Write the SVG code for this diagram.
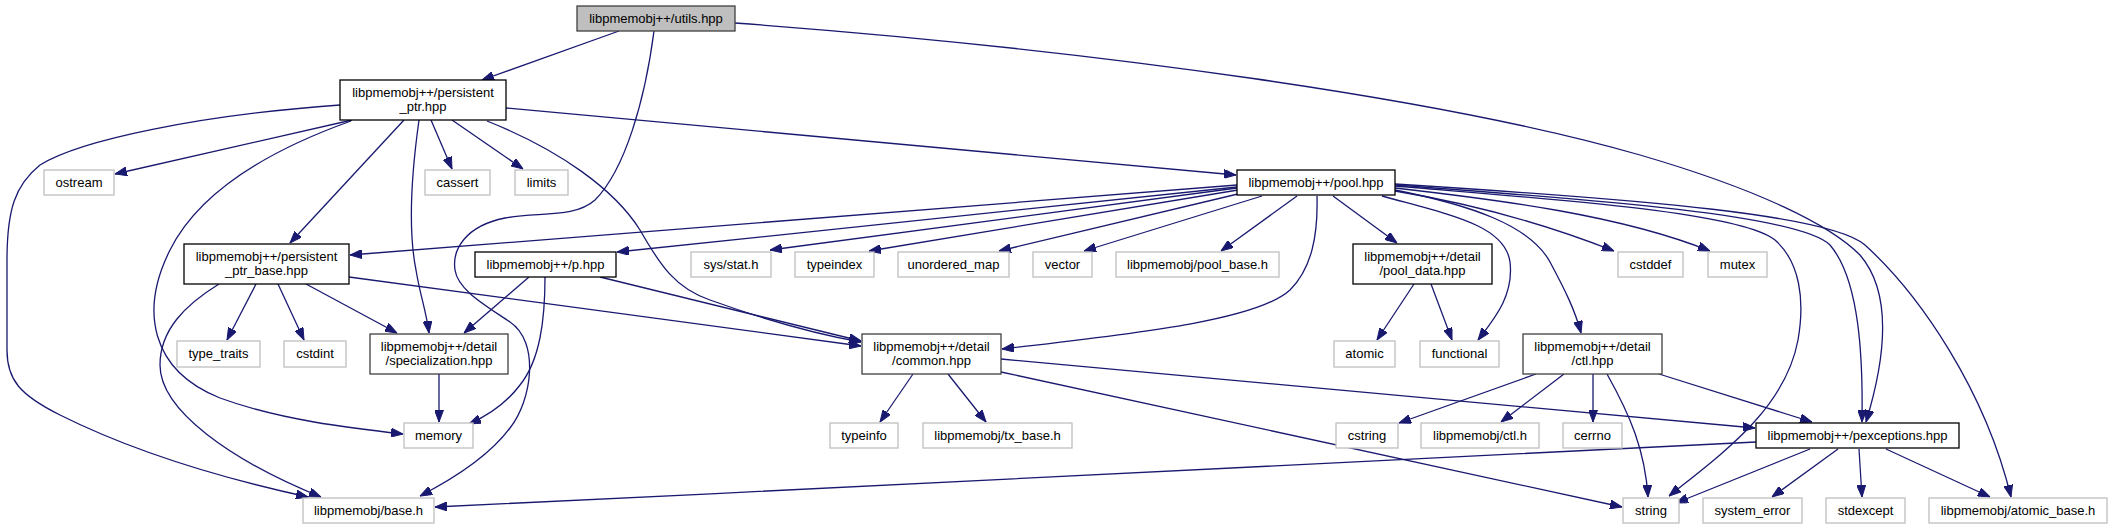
<svg xmlns="http://www.w3.org/2000/svg" width="2112" height="529" viewBox="0 0 2112 529">
<defs>
<style>
.n rect{fill:#fff;stroke:#000;stroke-width:1.3}
.n.g rect{stroke:#bfbfbf}
.n.d rect{stroke:#404040}
.n.r rect{fill:#bfbfbf;stroke:#404040}
text{font-family:"Liberation Sans",Arial,Helvetica,sans-serif;font-size:13px;fill:#000;text-anchor:middle}
#edges path{fill:none;stroke:#191970;stroke-width:1.3;marker-end:url(#ah)}
</style>
<marker id="ah" viewBox="0 0 12 9" refX="12" refY="4.5" markerWidth="12" markerHeight="9" markerUnits="userSpaceOnUse" orient="auto">
<path d="M0,0 L12,4.5 L0,9 Z" fill="#191970" stroke="#191970" stroke-width="1"/>
</marker>
</defs>
<rect width="2112" height="529" fill="#fff"/>
<g id="edges">
<path d="M619,31 L482,80"/>
<path d="M654,31 C645,100 625,170 595,200 C575,218 540,212 505,218 C465,226 452,250 455,270 C458,290 485,305 510,322 C540,342 532,400 510,428 C490,455 455,478 420,496"/>
<path d="M735,23 C1100,50 1450,100 1640,155 C1760,190 1830,225 1860,255 C1890,290 1888,350 1866,422"/>
<path d="M352,120 L115,174"/>
<path d="M431,120 L452,169"/>
<path d="M452,120 L523,169"/>
<path d="M404,120 L290,243"/>
<path d="M419,120 C412,170 408,230 416,270 C420,295 426,310 429,333"/>
<path d="M351,121 C270,150 200,190 170,250 C140,310 150,370 220,398 C280,420 350,428 403,434"/>
<path d="M340,105 C200,115 80,140 40,165 C15,185 7,210 7,260 L7,350 C7,380 20,395 60,415 C140,455 230,480 308,497"/>
<path d="M487,121 C560,150 615,190 640,230 C660,265 675,288 710,300 C760,318 810,333 861,342"/>
<path d="M506,108 L1236,175"/>
<path d="M256,284 L227,340"/>
<path d="M278,284 L304,340"/>
<path d="M306,284 L397,333"/>
<path d="M219,284 C185,305 160,330 160,365 C160,410 230,460 321,497"/>
<path d="M349,277 L861,346"/>
<path d="M529,277 L464,333"/>
<path d="M545,277 C545,320 540,360 520,385 C505,405 487,416 469,424"/>
<path d="M600,277 L861,341"/>
<path d="M439,374 L439,422"/>
<path d="M1237,185 L350,255"/>
<path d="M1237,187 L617,252"/>
<path d="M1237,188 L770,250"/>
<path d="M1238,190 L869,251"/>
<path d="M1242,193 L999,251"/>
<path d="M1262,196 L1084,251"/>
<path d="M1297,196 L1221,251"/>
<path d="M1333,196 L1397,243"/>
<path d="M1382,196 C1450,215 1505,225 1510,262 C1514,295 1495,318 1478,340"/>
<path d="M1317,196 C1318,235 1312,268 1290,290 C1255,322 1120,335 1002,349"/>
<path d="M1395,190 C1470,205 1530,225 1550,262 C1565,290 1575,310 1581,333"/>
<path d="M1395,191 Q1510,210 1614,251"/>
<path d="M1395,188 C1500,200 1620,215 1710,251"/>
<path d="M1395,186 C1560,200 1740,212 1775,240 C1800,262 1805,300 1798,340 C1785,410 1720,455 1669,496"/>
<path d="M1395,185 C1600,200 1800,215 1830,245 C1860,280 1863,360 1862,422"/>
<path d="M1395,184 C1650,200 1830,215 1865,245 C1920,295 1985,390 2011,497"/>
<path d="M1414,284 L1377,340"/>
<path d="M1431,284 L1452,340"/>
<path d="M913,374 L880,422"/>
<path d="M948,374 L986,422"/>
<path d="M1001,359 L1755,428"/>
<path d="M1001,372 L1622,507"/>
<path d="M1536,374 L1399,423"/>
<path d="M1564,374 L1501,422"/>
<path d="M1593,374 L1593,422"/>
<path d="M1607,374 C1630,415 1645,450 1648,497"/>
<path d="M1659,374 L1812,422"/>
<path d="M1756,442 C1400,460 900,485 435,507"/>
<path d="M1810,449 L1676,503"/>
<path d="M1838,449 L1772,497"/>
<path d="M1859,449 L1862,497"/>
<path d="M1886,449 L1990,497"/>
</g>
<g id="node-utils" class="n r"><rect x="577" y="6" width="158" height="25"/><text x="656" y="22.5">libpmemobj++/utils.hpp</text></g>
<g id="node-persistent_ptr" class="n"><rect x="340" y="80" width="166" height="40"/><text x="423" y="97">libpmemobj++/persistent</text><text x="423" y="111">_ptr.hpp</text></g>
<g id="node-ostream" class="n g"><rect x="44" y="170" width="70" height="25"/><text x="79" y="186.5">ostream</text></g>
<g id="node-cassert" class="n g"><rect x="425" y="170" width="65" height="25"/><text x="457.5" y="186.5">cassert</text></g>
<g id="node-limits" class="n g"><rect x="515" y="170" width="53" height="25"/><text x="541.5" y="186.5">limits</text></g>
<g id="node-pool" class="n"><rect x="1237" y="170" width="158" height="25"/><text x="1316" y="186.5">libpmemobj++/pool.hpp</text></g>
<g id="node-persistent_ptr_base" class="n"><rect x="184" y="244" width="165" height="40"/><text x="266.5" y="261">libpmemobj++/persistent</text><text x="266.5" y="275">_ptr_base.hpp</text></g>
<g id="node-p" class="n"><rect x="475" y="252" width="141" height="25"/><text x="545.5" y="268.5">libpmemobj++/p.hpp</text></g>
<g id="node-sys_stat" class="n g"><rect x="691" y="252" width="80" height="25"/><text x="731" y="268.5">sys/stat.h</text></g>
<g id="node-typeindex" class="n g"><rect x="795" y="252" width="79" height="25"/><text x="834.5" y="268.5">typeindex</text></g>
<g id="node-unordered_map" class="n g"><rect x="898" y="252" width="111" height="25"/><text x="953.5" y="268.5">unordered_map</text></g>
<g id="node-vector" class="n g"><rect x="1033" y="252" width="59" height="25"/><text x="1062.5" y="268.5">vector</text></g>
<g id="node-pool_base" class="n g"><rect x="1116" y="252" width="163" height="25"/><text x="1197.5" y="268.5">libpmemobj/pool_base.h</text></g>
<g id="node-pool_data" class="n"><rect x="1353" y="244" width="139" height="40"/><text x="1422.5" y="261">libpmemobj++/detail</text><text x="1422.5" y="275">/pool_data.hpp</text></g>
<g id="node-cstddef" class="n g"><rect x="1618" y="252" width="65" height="25"/><text x="1650.5" y="268.5">cstddef</text></g>
<g id="node-mutex" class="n g"><rect x="1708" y="252" width="59" height="25"/><text x="1737.5" y="268.5">mutex</text></g>
<g id="node-type_traits" class="n g"><rect x="177" y="341" width="83" height="26"/><text x="218.5" y="358">type_traits</text></g>
<g id="node-cstdint" class="n g"><rect x="284" y="341" width="62" height="26"/><text x="315" y="358">cstdint</text></g>
<g id="node-specialization" class="n d"><rect x="370" y="334" width="138" height="40"/><text x="439" y="351">libpmemobj++/detail</text><text x="439" y="365">/specialization.hpp</text></g>
<g id="node-common" class="n d"><rect x="862" y="334" width="139" height="40"/><text x="931.5" y="351">libpmemobj++/detail</text><text x="931.5" y="365">/common.hpp</text></g>
<g id="node-atomic" class="n g"><rect x="1334" y="341" width="61" height="26"/><text x="1364.5" y="358">atomic</text></g>
<g id="node-functional" class="n g"><rect x="1420" y="341" width="79" height="26"/><text x="1459.5" y="358">functional</text></g>
<g id="node-ctl_hpp" class="n d"><rect x="1523" y="334" width="139" height="40"/><text x="1592.5" y="351">libpmemobj++/detail</text><text x="1592.5" y="365">/ctl.hpp</text></g>
<g id="node-memory" class="n g"><rect x="404" y="423" width="69" height="25"/><text x="438.5" y="439.5">memory</text></g>
<g id="node-typeinfo" class="n g"><rect x="830" y="423" width="68" height="25"/><text x="864" y="439.5">typeinfo</text></g>
<g id="node-tx_base" class="n g"><rect x="923" y="423" width="149" height="25"/><text x="997.5" y="439.5">libpmemobj/tx_base.h</text></g>
<g id="node-cstring" class="n g"><rect x="1336" y="423" width="62" height="25"/><text x="1367" y="439.5">cstring</text></g>
<g id="node-ctl_h" class="n g"><rect x="1421" y="423" width="118" height="25"/><text x="1480" y="439.5">libpmemobj/ctl.h</text></g>
<g id="node-cerrno" class="n g"><rect x="1563" y="423" width="59" height="25"/><text x="1592.5" y="439.5">cerrno</text></g>
<g id="node-pexceptions" class="n"><rect x="1756" y="423" width="203" height="25"/><text x="1857.5" y="439.5">libpmemobj++/pexceptions.hpp</text></g>
<g id="node-base_h" class="n g"><rect x="303" y="498" width="131" height="25"/><text x="368.5" y="514.5">libpmemobj/base.h</text></g>
<g id="node-string" class="n g"><rect x="1623" y="498" width="56" height="25"/><text x="1651" y="514.5">string</text></g>
<g id="node-system_error" class="n g"><rect x="1703" y="498" width="99" height="25"/><text x="1752.5" y="514.5">system_error</text></g>
<g id="node-stdexcept" class="n g"><rect x="1826" y="498" width="79" height="25"/><text x="1865.5" y="514.5">stdexcept</text></g>
<g id="node-atomic_base" class="n g"><rect x="1929" y="498" width="178" height="25"/><text x="2018" y="514.5">libpmemobj/atomic_base.h</text></g>
</svg>
